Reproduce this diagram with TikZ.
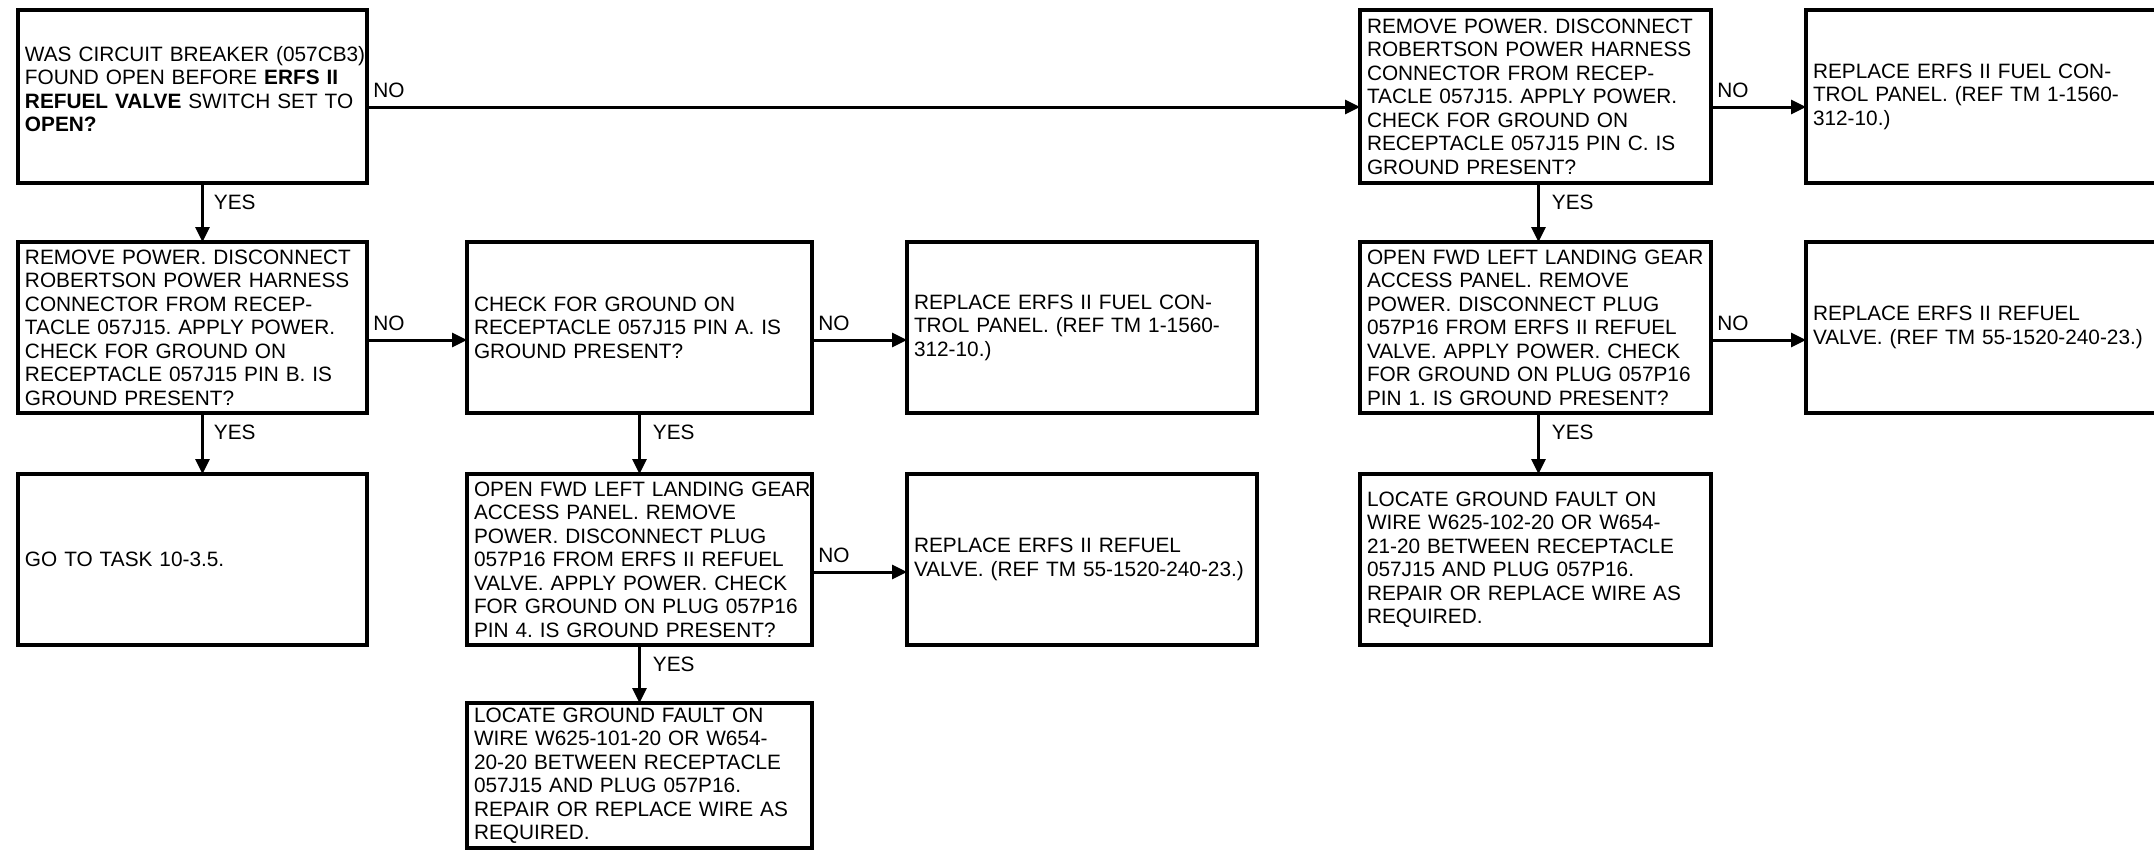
\documentclass[tikz,border=0pt]{standalone}
\usepackage{fontspec}
\setmainfont{Liberation Sans}
\usetikzlibrary{arrows.meta,calc}
\frenchspacing
\tikzset{
  box/.style={draw, line width=2pt, rectangle, outer sep=0pt, inner xsep=3.5pt, inner ysep=1pt,
    align=left, anchor=north west, font=\fontsize{10.4pt}{11.75pt}\selectfont\frenchspacing},
  arr/.style={line width=1.5pt, -{Triangle[length=7.5pt,width=7pt]}},
  lbl/.style={inner sep=0pt, font=\fontsize{10.4pt}{11.75pt}\selectfont},
}
\begin{document}
\begin{tikzpicture}[x=0.5pt,y=-0.5pt]
\useasboundingbox (0,0) rectangle (2154,851);
\clip (0,0) rectangle (2154,851);
% ---------- row 1
\node[box, minimum width=174.5pt, minimum height=86.5pt, text width=167.5pt] (b1) at (18,10)
 {\mbox{WAS CIRCUIT BREAKER (057CB3)}\\ FOUND OPEN BEFORE \textbf{ERFS II}\\ \mbox{\textbf{REFUEL VALVE} SWITCH SET TO}\\ \textbf{OPEN?}\\[-4pt]\mbox{}};
\node[box, minimum width=175.5pt, minimum height=86.5pt, text width=168.5pt] (bA) at (1360,10)
 {REMOVE POWER. DISCONNECT\\ ROBERTSON POWER HARNESS\\ CONNECTOR FROM RECEP-\\ \mbox{TACLE 057J15. APPLY POWER.}\\ CHECK FOR GROUND ON\\ \mbox{RECEPTACLE 057J15 PIN C. IS}\\ GROUND PRESENT?};
\node[box, minimum width=182pt, minimum height=86.5pt, text width=175pt] (bB) at (1806,10)
 {REPLACE ERFS II FUEL CON-\\ TROL PANEL. (REF TM 1-1560-\\ 312-10.)};
% ---------- row 2
\node[box, minimum width=174.5pt, minimum height=85.5pt, text width=167.5pt] (b2) at (18,242)
 {REMOVE POWER. DISCONNECT\\ ROBERTSON POWER HARNESS\\ CONNECTOR FROM RECEP-\\ \mbox{TACLE 057J15. APPLY POWER.}\\ CHECK FOR GROUND ON\\ \mbox{RECEPTACLE 057J15 PIN B. IS}\\ GROUND PRESENT?};
\node[box, minimum width=172.5pt, minimum height=85.5pt, text width=165.5pt] (b3) at (467,242)
 {CHECK FOR GROUND ON\\ \mbox{RECEPTACLE 057J15 PIN A. IS}\\ GROUND PRESENT?};
\node[box, minimum width=175pt, minimum height=85.5pt, text width=168pt] (b4) at (907,242)
 {REPLACE ERFS II FUEL CON-\\ TROL PANEL. (REF TM 1-1560-\\ 312-10.)};
\node[box, minimum width=175.5pt, minimum height=85.5pt, text width=168.5pt] (b5) at (1360,242)
 {\mbox{OPEN FWD LEFT LANDING GEAR}\\ ACCESS PANEL. REMOVE\\ POWER. DISCONNECT PLUG\\ \mbox{057P16 FROM ERFS II REFUEL}\\ \mbox{VALVE. APPLY POWER. CHECK}\\ \mbox{FOR GROUND ON PLUG 057P16}\\ \mbox{PIN 1. IS GROUND PRESENT?}};
\node[box, minimum width=182pt, minimum height=85.5pt, text width=175pt] (b6) at (1806,242)
 {REPLACE ERFS II REFUEL\\ \mbox{VALVE. (REF TM 55-1520-240-23.)}};
% ---------- row 3
\node[box, minimum width=174.5pt, minimum height=85.5pt, text width=167.5pt] (b7) at (18,474)
 {GO TO TASK 10-3.5.};
\node[box, minimum width=172.5pt, minimum height=85.5pt, text width=165.5pt] (b8) at (467,474)
 {\mbox{OPEN FWD LEFT LANDING GEAR}\\ ACCESS PANEL. REMOVE\\ POWER. DISCONNECT PLUG\\ \mbox{057P16 FROM ERFS II REFUEL}\\ \mbox{VALVE. APPLY POWER. CHECK}\\ \mbox{FOR GROUND ON PLUG 057P16}\\ \mbox{PIN 4. IS GROUND PRESENT?}};
\node[box, minimum width=175pt, minimum height=85.5pt, text width=168pt] (b9) at (907,474)
 {REPLACE ERFS II REFUEL\\ \mbox{VALVE. (REF TM 55-1520-240-23.)}};
\node[box, minimum width=175.5pt, minimum height=85.5pt, text width=168.5pt] (b10) at (1360,474)
 {LOCATE GROUND FAULT ON\\ WIRE W625-102-20 OR W654-\\ \mbox{21-20 BETWEEN RECEPTACLE}\\ 057J15 AND PLUG 057P16.\\ \mbox{REPAIR OR REPLACE WIRE AS}\\ REQUIRED.};
% ---------- row 4
\node[box, minimum width=172.5pt, minimum height=72.5pt, text width=165.5pt] (b11) at (467,703)
 {LOCATE GROUND FAULT ON\\ WIRE W625-101-20 OR W654-\\ \mbox{20-20 BETWEEN RECEPTACLE}\\ 057J15 AND PLUG 057P16.\\ \mbox{REPAIR OR REPLACE WIRE AS}\\ REQUIRED.};
% ---------- NO connectors
\coordinate (a1) at ([yshift=-5.25pt]b1.east);
\draw[arr] (a1) -- (a1 -| bA.west);
\node[lbl, anchor=base west] (n1) at ([xshift=3pt,yshift=4.8pt]a1) {NO};
\coordinate (a2) at ([yshift=-5.25pt]bA.east);
\draw[arr] (a2) -- (a2 -| bB.west);
\node[lbl, anchor=base west] (n2) at ([xshift=3pt,yshift=4.8pt]a2) {NO};
\coordinate (a3) at ([yshift=-6.25pt]b2.east);
\draw[arr] (a3) -- (a3 -| b3.west);
\node[lbl, anchor=base west] (n3) at ([xshift=3pt,yshift=4.8pt]a3) {NO};
\coordinate (a4) at ([yshift=-6.25pt]b3.east);
\draw[arr] (a4) -- (a4 -| b4.west);
\node[lbl, anchor=base west] (n4) at ([xshift=3pt,yshift=4.8pt]a4) {NO};
\coordinate (a5) at ([yshift=-6.25pt]b5.east);
\draw[arr] (a5) -- (a5 -| b6.west);
\node[lbl, anchor=base west] (n5) at ([xshift=3pt,yshift=4.8pt]a5) {NO};
\coordinate (a6) at ([yshift=-6.25pt]b8.east);
\draw[arr] (a6) -- (a6 -| b9.west);
\node[lbl, anchor=base west] (n6) at ([xshift=3pt,yshift=4.8pt]a6) {NO};
% ---------- YES connectors
\coordinate (y1) at ([xshift=5pt]b1.south);
\draw[arr] (y1) -- (y1 |- b2.north);
\node[lbl, anchor=base west] (s1) at ([xshift=5.5pt,yshift=-13.2pt]y1) {YES};
\coordinate (y2) at ([xshift=5pt]b2.south);
\draw[arr] (y2) -- (y2 |- b7.north);
\node[lbl, anchor=base west] (s2) at ([xshift=5.5pt,yshift=-13.2pt]y2) {YES};
\coordinate (y3) at (b3.south);
\draw[arr] (y3) -- (y3 |- b8.north);
\node[lbl, anchor=base west] (s3) at ([xshift=6.5pt,yshift=-13.2pt]y3) {YES};
\coordinate (y4) at (b8.south);
\draw[arr] (y4) -- (y4 |- b11.north);
\node[lbl, anchor=base west] (s4) at ([xshift=6.5pt,yshift=-13.2pt]y4) {YES};
\coordinate (y5) at ([xshift=1.5pt]bA.south);
\draw[arr] (y5) -- (y5 |- b5.north);
\node[lbl, anchor=base west] (s5) at ([xshift=6.5pt,yshift=-13.2pt]y5) {YES};
\coordinate (y6) at ([xshift=1.5pt]b5.south);
\draw[arr] (y6) -- (y6 |- b10.north);
\node[lbl, anchor=base west] (s6) at ([xshift=6.5pt,yshift=-13.2pt]y6) {YES};
\end{tikzpicture}
\end{document}
